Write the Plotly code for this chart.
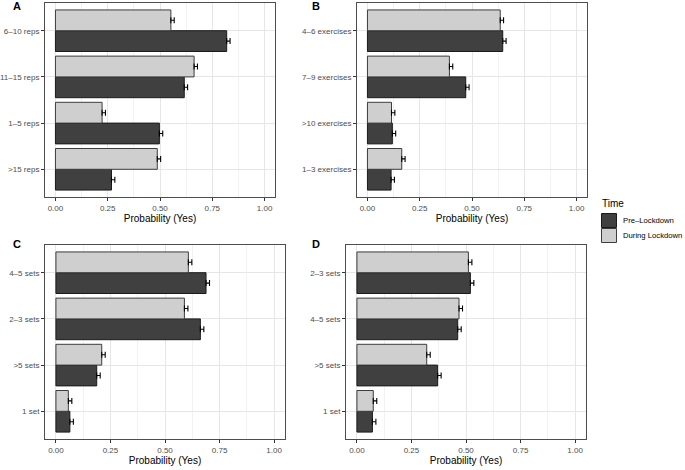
import plotly.graph_objects as go

# ---------------- data ----------------
# categories listed top -> bottom as in the picture
a_cats = ["6–10 reps", "11–15 reps", "1–5 reps", ">15 reps"]
a_pre = [0.819, 0.616, 0.497, 0.268]
a_during = [0.552, 0.663, 0.223, 0.487]

b_cats = ["4–6 exercises", "7–9 exercises", ">10 exercises", "1–3 exercises"]
b_pre = [0.647, 0.470, 0.119, 0.113]
b_during = [0.635, 0.392, 0.115, 0.164]

c_cats = ["4–5 sets", "2–3 sets", ">5 sets", "1 set"]
c_pre = [0.688, 0.662, 0.187, 0.064]
c_during = [0.607, 0.589, 0.210, 0.057]

d_cats = ["2–3 sets", "4–5 sets", ">5 sets", "1 set"]
d_pre = [0.520, 0.462, 0.370, 0.071]
d_during = [0.511, 0.468, 0.320, 0.075]

# error bar extents (upper / lower) in probability units
err_up = [0.016, 0.016, 0.016, 0.016]
err_down = [0.0, 0.0, 0.0, 0.0]

x_ticks = [0, 0.25, 0.5, 0.75, 1.0]
x_ticklabels = ["0.00", "0.25", "0.50", "0.75", "1.00"]

series_names = ["Pre–Lockdown", "During Lockdown"]
legend_title = "Time"
axis_title = "Probability (Yes)"

panels = [
    ("A", a_cats, a_pre, a_during),
    ("B", b_cats, b_pre, b_during),
    ("C", c_cats, c_pre, c_during),
    ("D", d_cats, d_pre, d_during),
]

W, H = 685, 470
# plot-area boxes in pixels: left, right, top, bottom
boxes = [
    (45, 275, 3, 197),
    (357, 587, 3, 197),
    (45, 285, 245, 439),
    (346, 586, 245, 439),
]
label_pos = [(11, 6), (310, 6), (11, 244), (310, 244)]

DARK = "#404040"
DARK_LINE = "#1a1a1a"
LIGHT = "#cfcfcf"
LIGHT_LINE = "#3d3d3d"
FONT = "Liberation Sans, Arial, sans-serif"

fig = go.Figure()
layout_axes = {}
annotations = []
shapes = []

for i, (lab, cats, pre, during) in enumerate(panels):
    n = i + 1
    xa = "x" if n == 1 else f"x{n}"
    ya = "y" if n == 1 else f"y{n}"
    xkey = "xaxis" if n == 1 else f"xaxis{n}"
    ykey = "yaxis" if n == 1 else f"yaxis{n}"
    l, r, t, b = boxes[i]
    fig.add_trace(go.Bar(
        y=cats, x=pre, orientation="h", name=series_names[0],
        marker=dict(color=DARK, line=dict(color=DARK_LINE, width=1)),
        error_x=dict(type="data", symmetric=False, array=err_up, arrayminus=err_down,
                     color="black", thickness=1.1, width=3),
        xaxis=xa, yaxis=ya, showlegend=False,
    ))
    fig.add_trace(go.Bar(
        y=cats, x=during, orientation="h", name=series_names[1],
        marker=dict(color=LIGHT, line=dict(color=LIGHT_LINE, width=1)),
        error_x=dict(type="data", symmetric=False, array=err_up, arrayminus=err_down,
                     color="black", thickness=1.1, width=3),
        xaxis=xa, yaxis=ya, showlegend=False,
    ))
    layout_axes[xkey] = dict(
        domain=[l / W, r / W], anchor=ya, range=[-0.05, 1.05], automargin=False,
        tickvals=x_ticks, ticktext=x_ticklabels,
        ticks="outside", ticklen=3, tickcolor="#333333", tickwidth=0.8,
        tickfont=dict(size=8, color="#4d4d4d", family=FONT),
        showgrid=True, gridcolor="#e6e6e6", gridwidth=0.8,
        minor=dict(tickvals=[0.125, 0.375, 0.625, 0.875], showgrid=True,
                   gridcolor="#f2f2f2", gridwidth=0.5, ticks=""),
        showline=True, linecolor="#4d4d4d", linewidth=1, mirror=True,
        zeroline=False,
        title=dict(text=axis_title, font=dict(size=10, color="black", family=FONT), standoff=3),
    )
    layout_axes[ykey] = dict(
        domain=[1 - b / H, 1 - t / H], anchor=xa, automargin=False,
        type="category", categoryorder="array", categoryarray=list(reversed(cats)),
        range=[-0.6, 3.6],
        ticks="outside", ticklen=3, tickcolor="#333333", tickwidth=0.8,
        tickfont=dict(size=8, color="#4d4d4d", family=FONT),
        showgrid=True, gridcolor="#e6e6e6", gridwidth=0.8,
        showline=True, linecolor="#4d4d4d", linewidth=1, mirror=True,
        zeroline=False,
    )
    lx, ly = label_pos[i]
    annotations.append(dict(
        text=f"<b>{lab}</b>", xref="paper", yref="paper",
        x=lx / W, y=1 - ly / H, xanchor="left", yanchor="middle",
        showarrow=False, font=dict(size=11, color="black", family=FONT),
    ))

# legend drawn by hand (ggplot-style square keys)
annotations.append(dict(
    text=legend_title, xref="paper", yref="paper", x=600 / W, y=1 - 204 / H,
    xanchor="left", yanchor="middle", showarrow=False,
    font=dict(size=10, color="black", family=FONT),
))
key_fills = [DARK, LIGHT]
key_lines = [DARK_LINE, LIGHT_LINE]
for k in range(2):
    top = 213 + 15 * k
    shapes.append(dict(
        type="rect", xref="paper", yref="paper",
        x0=601.5 / W, x1=616.5 / W, y0=1 - (top + 14.5) / H, y1=1 - (top + 0.5) / H,
        fillcolor=key_fills[k], line=dict(color=key_lines[k], width=1),
    ))
    annotations.append(dict(
        text=series_names[k], xref="paper", yref="paper", x=621 / W, y=1 - (top + 7.5) / H,
        xanchor="left", yanchor="middle", showarrow=False,
        font=dict(size=7.7, color="black", family=FONT),
    ))

fig.update_layout(
    width=W, height=H,
    margin=dict(l=0, r=0, t=0, b=0, autoexpand=False),
    paper_bgcolor="white", plot_bgcolor="white",
    barmode="group", bargap=0.1, bargroupgap=0,
    font=dict(family=FONT),
    showlegend=False,
    annotations=annotations,
    shapes=shapes,
    **layout_axes,
)

fig.write_html("out.html", config={"displayModeBar": False},
               post_script="document.body.style.margin='0px';")
